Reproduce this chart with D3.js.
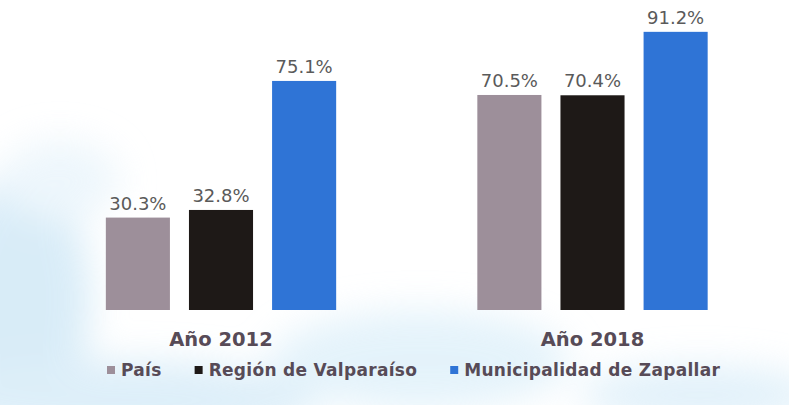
<!DOCTYPE html>
<html><head><meta charset="utf-8">
<script src="https://cdn.jsdelivr.net/npm/d3@7"></script>
<style>html,body{margin:0;padding:0;background:#fff;}svg{display:block;}</style>
</head><body>
<svg id="chart" width="789" height="405"></svg>
<script>
const groups = ["Año 2012", "Año 2018"];
const seriesNames = ["País", "Región de Valparaíso", "Municipalidad de Zapallar"];
const pais = [30.3, 70.5];
const region = [32.8, 70.4];
const zapallar = [75.1, 91.2];
const colors = ["#9d8f9a", "#1e1917", "#2f74d6"];

const seriesValues = [pais, region, zapallar];
const svg = d3.select("#chart");

// soft watercolor background
const defs = svg.append("defs");
const f = defs.append("filter").attr("id", "blur").attr("x", "-50%").attr("y", "-50%").attr("width", "200%").attr("height", "200%");
f.append("feGaussianBlur").attr("stdDeviation", 18);
const bg = svg.append("g").attr("filter", "url(#blur)").attr("opacity", 0.6);
bg.append("ellipse").attr("cx", 20).attr("cy", 300).attr("rx", 70).attr("ry", 130).attr("fill", "#bfe0f3");
bg.append("ellipse").attr("cx", 120).attr("cy", 400).attr("rx", 200).attr("ry", 40).attr("fill", "#c7e4f5");
bg.append("ellipse").attr("cx", 420).attr("cy", 360).attr("rx", 150).attr("ry", 50).attr("fill", "#d3ebf8");
bg.append("ellipse").attr("cx", 700).attr("cy", 395).attr("rx", 120).attr("ry", 30).attr("fill", "#cfe8f7");
bg.append("ellipse").attr("cx", 60).attr("cy", 180).attr("rx", 60).attr("ry", 40).attr("fill", "#e2f1fa");

const x0 = d3.scaleBand().domain(groups).range([35.25, 778.25]).paddingInner(0.38).paddingOuter(0.19);
const x1 = d3.scaleBand().domain(seriesNames).range([0, x0.bandwidth()]).paddingInner(0.229).paddingOuter(0);
const y = d3.scaleLinear().domain([0, 100]).range([310, 5]);

const g = svg.append("g");
groups.forEach((grp, gi) => {
  const gg = g.append("g").attr("transform", `translate(${x0(grp)},0)`);
  seriesNames.forEach((s, si) => {
    const v = seriesValues[si][gi];
    gg.append("rect")
      .attr("x", x1(s)).attr("y", y(v))
      .attr("width", x1.bandwidth()).attr("height", y(0) - y(v))
      .attr("fill", colors[si]);
    gg.append("text")
      .attr("x", x1(s) + x1.bandwidth() / 2).attr("y", y(v) - 8)
      .attr("text-anchor", "middle")
      .attr("font-family", "DejaVu Sans, Verdana, sans-serif")
      .attr("font-size", 18).attr("fill", "#5a5a5a")
      .text(v.toFixed(1) + "%");
  });
});

// category axis labels
const xAxis = d3.axisBottom(x0).tickSize(0).tickPadding(0);
const ax = svg.append("g").attr("transform", "translate(0,310)").call(xAxis);
ax.select(".domain").remove();
ax.selectAll("text")
  .attr("dy", null).attr("y", 36)
  .attr("font-family", "DejaVu Sans, Verdana, sans-serif")
  .attr("font-weight", "bold").attr("font-size", 19.5)
  .attr("fill", "#574b57");

// legend
const leg = svg.append("g").attr("transform", "translate(0,376)");
let cx = 107;
seriesNames.forEach((s, si) => {
  leg.append("rect").attr("x", cx).attr("y", -10).attr("width", 8).attr("height", 8).attr("fill", colors[si]);
  const t = leg.append("text").attr("x", cx + 14).attr("y", 0)
    .attr("font-family", "DejaVu Sans, Verdana, sans-serif")
    .attr("font-weight", "bold").attr("font-size", 17)
    .attr("letter-spacing", 0.3)
    .attr("fill", "#574b57").text(s);
  cx = cx + 14 + t.node().getComputedTextLength() + 33;
});
</script>
</body></html>
